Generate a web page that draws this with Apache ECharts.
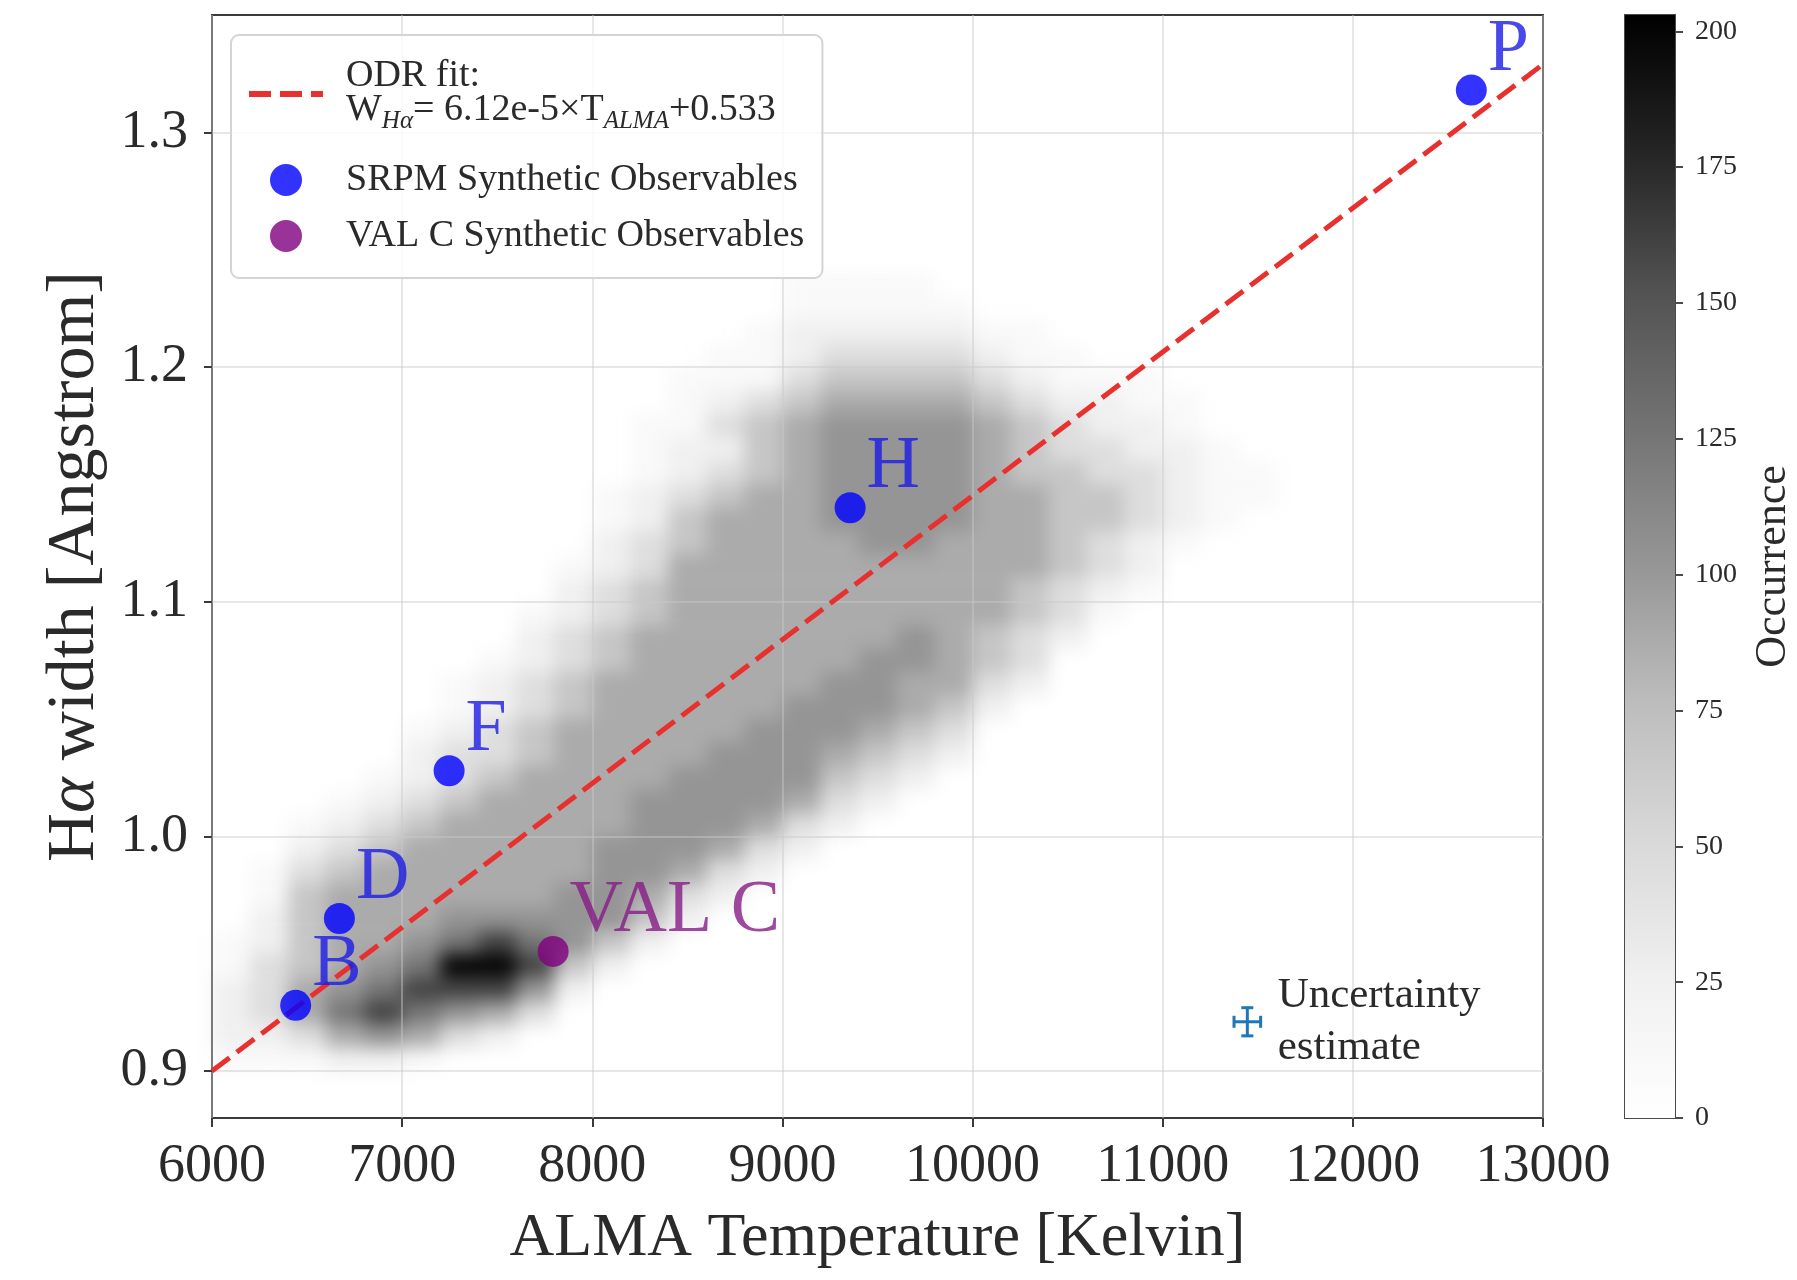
<!DOCTYPE html>
<html>
<head>
<meta charset="utf-8">
<script src="https://cdn.jsdelivr.net/npm/echarts@6/dist/echarts.min.js"></script>
<style>
html, body { margin: 0; padding: 0; background: #fff; }
#chart { width: 1797px; height: 1280px; }
</style>
</head>
<body>
<div id="chart"></div>
<script>
var FONT = '"Liberation Serif", "DejaVu Serif", serif';
var INK = '#2a2a2a';

// ODR fit, end points
var fitT = [6000, 13000];
var fitW = [0.900, 1.329];

// synthetic observables
var srpmNames = ['B', 'D', 'F', 'H', 'P'];
var srpmT = [6440, 6670, 7247, 9356, 12623];
var srpmW = [0.928, 0.965, 1.028, 1.140, 1.318];
var valcNames = ['VAL C'];
var valcT = [7794];
var valcW = [0.951];

// uncertainty marker
var uncT = [11445];
var uncW = [0.921];
var uncErrT = [70];
var uncErrW = [0.006];

var yTicks = [0.9, 1.0, 1.1, 1.2, 1.3];
var cbTicks = [0, 25, 50, 75, 100, 125, 150, 175, 200];
var greys = ['#ffffff', '#f0f0f0', '#d9d9d9', '#bdbdbd', '#969696', '#737373', '#525252', '#252525', '#000000'];

// 2d histogram, read as levels per 200 K x 0.01 A cell
// rows go from top (lower edge 1.23) down to bottom (lower edge 0.90)
var histT0 = 6000, histDT = 200;
var histWTop = 1.23, histDW = 0.01;
var histLevels = [0, 10, 25, 45, 68, 88, 102, 125, 160, 200];
var histRows = [
  '00000000000000011110000000000',
  '00000000000000011111000000000',
  '00000000000000122222110000000',
  '00000000000001123333211000000',
  '00000000000011134444321110000',
  '00000000000012345555432211000',
  '00000000000113456666543221000',
  '00000000000122456666543322100',
  '00000000000123456666544332110',
  '00000000001234556666554432110',
  '00000000001245556666554432100',
  '00000000002345555665554321000',
  '00000000012355555555554320000',
  '00000000023455555555543210000',
  '00000000123455555555543100000',
  '00000000234555555565432000000',
  '00000001234555555665430000000',
  '00000012345555556655320000000',
  '00000012345555566654200000000',
  '00000123455555666543000000000',
  '00000233455556665432000000000',
  '00001234555566664320000000000',
  '00012345555666653200000000000',
  '00123455555666532000000000000',
  '00234555556665320000000000000',
  '01345555556653200000000000000',
  '01455555566532000000000000000',
  '02455566666420000000000000000',
  '12455678764200000000000000000',
  '13456799842000000000000000000',
  '23567888620000000000000000000',
  '23578765300000000000000000000',
  '22356532000000000000000000000',
  '11122100000000000000000000000'
];

var histData = [];
histRows.forEach(function (row, i) {
  var w = +(histWTop - i * histDW).toFixed(3);
  for (var c = 0; c < row.length; c++) {
    var lv = +row[c];
    if (lv > 0) histData.push([histT0 + c * histDT, w, histLevels[lv]]);
  }
});

var chart = echarts.init(document.getElementById('chart'));

var pointLabel = {
  show: true, position: 'right', distance: 1, offset: [0, -40],
  fontFamily: FONT, fontSize: 74
};

var option = {
  animation: false,
  backgroundColor: 'transparent',
  textStyle: { fontFamily: FONT },
  grid: [
    { left: 212, top: 15, width: 1331, height: 1103, show: true,
      borderColor: '#3a3a3a', borderWidth: 2, backgroundColor: 'transparent' },
    { left: 1625, top: 15, width: 50, height: 1103, show: true,
      borderColor: '#4a4a4a', borderWidth: 2, backgroundColor: 'transparent' }
  ],
  visualMap: {
    show: false, seriesIndex: 0, dimension: 2, min: 0, max: 203,
    inRange: { color: greys }
  },
  legend: {
    orient: 'vertical', left: 231, top: 35,
    padding: [22, 18, 23, 15],
    itemGap: 18, itemWidth: 74, itemHeight: 32,
    backgroundColor: 'rgba(255,255,255,0.85)',
    borderColor: '#d4d4d4', borderWidth: 2, borderRadius: 8,
    data: [
      { name: 'ODR fit', itemStyle: { opacity: 0 }, lineStyle: { width: 6 } },
      'SRPM Synthetic Observables',
      'VAL C Synthetic Observables'
    ],
    formatter: function (name) {
      if (name === 'ODR fit') {
        return '{a|ODR fit:}\n{w|W}{s|Hα}{m|= 6.12e-5×T}{s|ALMA}{m|+0.533}';
      }
      return '{n|' + name + '}';
    },
    textStyle: {
      color: INK, fontFamily: FONT, fontSize: 38,
      rich: {
        a: { fontFamily: FONT, fontSize: 38, color: INK, lineHeight: 30, padding: [0, 0, 0, 18] },
        w: { fontFamily: FONT, fontSize: 38, color: INK, lineHeight: 36, padding: [0, 0, 14, 18], verticalAlign: 'top' },
        m: { fontFamily: FONT, fontSize: 38, color: INK, lineHeight: 36, padding: [0, 0, 14, 0], verticalAlign: 'top' },
        s: { fontFamily: FONT, fontSize: 25, fontStyle: 'italic', color: INK, lineHeight: 24, padding: [18, 0, 0, 0], verticalAlign: 'top' },
        n: { fontFamily: FONT, fontSize: 38, color: INK, lineHeight: 37, padding: [0, 0, 0, 18] }
      }
    }
  },
  xAxis: [
    {
      type: 'value', gridIndex: 0, min: 6000, max: 13000, interval: 1000,
      name: 'ALMA Temperature [Kelvin]', nameLocation: 'middle', nameGap: 90,
      nameTextStyle: { fontFamily: FONT, fontSize: 62, color: INK },
      axisLine: { show: false },
      axisTick: { show: true, inside: false, length: 9, lineStyle: { color: '#3a3a3a', width: 2 } },
      axisLabel: { fontFamily: FONT, fontSize: 54, color: INK, margin: 22,
        formatter: function (v) { return String(v); } },
      splitLine: { show: true, lineStyle: { color: 'rgba(200,200,200,0.6)', width: 1.5 } }
    },
    { type: 'category', gridIndex: 1, data: ['cb'], show: false }
  ],
  yAxis: [
    {
      type: 'value', gridIndex: 0, min: 0.88, max: 1.35,
      name: '{n|H}{i|α}{n| width [Angstrom]}', nameLocation: 'middle', nameGap: 100,
      nameTextStyle: {
        fontFamily: FONT, fontSize: 68, color: INK,
        rich: {
          n: { fontFamily: FONT, fontSize: 68, color: INK },
          i: { fontFamily: FONT, fontSize: 68, color: INK, fontStyle: 'italic' }
        }
      },
      axisLine: { show: false },
      axisTick: { show: true, inside: false, length: 8, customValues: yTicks, lineStyle: { color: '#3a3a3a', width: 2 } },
      axisLabel: { fontFamily: FONT, fontSize: 54, color: INK, margin: 24, customValues: yTicks,
        formatter: function (v) { return v.toFixed(1); } },
      splitLine: { show: true, lineStyle: { color: 'rgba(200,200,200,0.6)', width: 1.5 } }
    },
    {
      type: 'value', gridIndex: 1, position: 'right', min: 0, max: 203,
      name: 'Occurrence', nameLocation: 'middle', nameGap: 76, nameRotate: 90,
      nameTextStyle: { fontFamily: FONT, fontSize: 44, color: INK },
      axisLine: { show: false },
      axisTick: { show: true, inside: false, length: 8, customValues: cbTicks, lineStyle: { color: '#4a4a4a', width: 2 } },
      axisLabel: { fontFamily: FONT, fontSize: 28, color: INK, margin: 20, customValues: cbTicks },
      splitLine: { show: false }
    }
  ],
  series: [
    {
      name: 'hist', type: 'custom', xAxisIndex: 0, yAxisIndex: 0, zlevel: -1, silent: true,
      encode: { x: 0, y: 1 },
      data: histData,
      renderItem: function (params, api) {
        var t = api.value(0), w = api.value(1);
        var p0 = api.coord([t, w]);
        var p1 = api.coord([t + histDT, w + histDW]);
        return {
          type: 'rect',
          shape: { x: p0[0], y: p1[1], width: p1[0] - p0[0] + 0.6, height: p0[1] - p1[1] + 0.6 },
          style: { fill: api.visual('color') }
        };
      }
    },
    {
      name: 'ODR fit', type: 'line', xAxisIndex: 0, yAxisIndex: 0, z: 3,
      symbol: 'none', silent: true,
      data: fitT.map(function (t, i) { return [t, fitW[i]]; }),
      itemStyle: { color: '#e8302f' },
      lineStyle: { color: '#e8302f', width: 5, type: [22, 9] }
    },
    {
      name: 'SRPM Synthetic Observables', type: 'scatter', xAxisIndex: 0, yAxisIndex: 0, z: 4,
      symbol: 'circle', symbolSize: 31,
      itemStyle: { color: '#0000ff' },
      label: Object.assign({}, pointLabel, { color: '#1a1ae6', formatter: function (p) { return p.data[2]; } }),
      data: srpmT.map(function (t, i) { return [t, srpmW[i], srpmNames[i]]; })
    },
    {
      name: 'VAL C Synthetic Observables', type: 'scatter', xAxisIndex: 0, yAxisIndex: 0, z: 4,
      symbol: 'circle', symbolSize: 31,
      itemStyle: { color: '#800080' },
      label: Object.assign({}, pointLabel, { color: '#861a86', formatter: function (p) { return p.data[2]; } }),
      data: valcT.map(function (t, i) { return [t, valcW[i], valcNames[i]]; })
    },
    {
      name: 'uncertainty', type: 'custom', xAxisIndex: 0, yAxisIndex: 0, z: 4, silent: true,
      encode: { x: 0, y: 1 },
      data: uncT.map(function (t, i) { return [t, uncW[i], uncErrT[i], uncErrW[i]]; }),
      renderItem: function (params, api) {
        var t = api.value(0), w = api.value(1), dt = api.value(2), dw = api.value(3);
        var c = api.coord([t, w]);
        var l = api.coord([t - dt, w]), r = api.coord([t + dt, w]);
        var b = api.coord([t, w - dw]), u = api.coord([t, w + dw]);
        var cap = 6;
        var st = { stroke: '#1f77b4', lineWidth: 3 };
        return {
          type: 'group',
          children: [
            { type: 'line', shape: { x1: l[0], y1: c[1], x2: r[0], y2: c[1] }, style: st },
            { type: 'line', shape: { x1: c[0], y1: b[1], x2: c[0], y2: u[1] }, style: st },
            { type: 'line', shape: { x1: l[0], y1: c[1] - cap, x2: l[0], y2: c[1] + cap }, style: st },
            { type: 'line', shape: { x1: r[0], y1: c[1] - cap, x2: r[0], y2: c[1] + cap }, style: st },
            { type: 'line', shape: { x1: c[0] - cap, y1: b[1], x2: c[0] + cap, y2: b[1] }, style: st },
            { type: 'line', shape: { x1: c[0] - cap, y1: u[1], x2: c[0] + cap, y2: u[1] }, style: st },
            {
              type: 'text', x: r[0] + 17, y: c[1],
              style: {
                text: 'Uncertainty\nestimate', fill: INK,
                fontFamily: FONT, fontSize: 43, lineHeight: 52,
                align: 'left', verticalAlign: 'middle'
              }
            }
          ]
        };
      }
    },
    {
      name: 'colorbar', type: 'bar', xAxisIndex: 1, yAxisIndex: 1, silent: true,
      barWidth: '100%',
      data: [203],
      itemStyle: {
        color: new echarts.graphic.LinearGradient(0, 0, 0, 1,
          greys.slice().reverse().map(function (g, i) { return { offset: i / (greys.length - 1), color: g }; }))
      }
    }
  ]
};

chart.setOption(option);

// soften the histogram cells: they sit on their own canvas layer
var histLayer = chart.getZr().painter.getLayer(-1);
if (histLayer && histLayer.dom) histLayer.dom.style.filter = 'blur(9px)';
</script>
</body>
</html>
